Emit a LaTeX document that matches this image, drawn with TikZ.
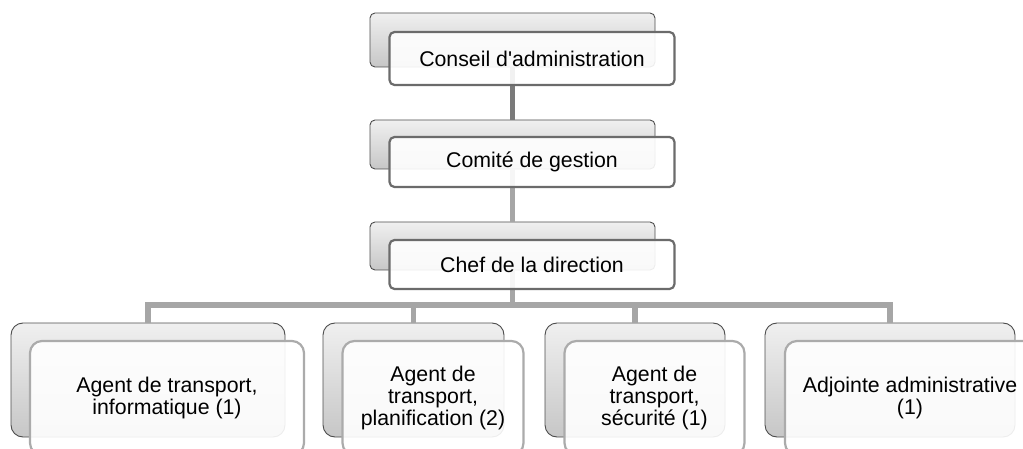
\documentclass[tikz,border=0pt]{standalone}
\usepackage{fontspec}
\setmainfont{Liberation Sans}
\begin{document}
\begin{tikzpicture}[x=1pt,y=-1pt]
  \tikzstyle{every node} = [align=center, inner sep=0pt, font=\fontsize{21.3}{22}\selectfont]
  \tikzstyle{back} = [draw=black!70, line width=0.9pt, top color=black!6, bottom color=black!22, rounded corners=5pt]
  \tikzstyle{front} = [draw=black!58, line width=2.2pt, fill=white, fill opacity=0.9, text opacity=1, rounded corners=5pt]
  \tikzstyle{lowfront} = [front, draw=black!33, rounded corners=12pt]
  \tikzstyle{link} = [line width=5.6pt, draw=black!35]
  \useasboundingbox (0,0) rectangle (1023,449);
  \clip (0,0) rectangle (1023,449);

  % back boxes
  \node[back, minimum width=285, minimum height=54] (conseilb) at (512.5,40) {};
  \node[back, minimum width=285, minimum height=49] (comiteb)  at (512.5,144.5) {};
  \node[back, minimum width=285, minimum height=48] (chefb)    at (512.5,246) {};
  \node[back, rounded corners=12pt, minimum width=274, minimum height=114] (infob) at (148,380) {};
  \node[back, rounded corners=12pt, minimum width=181, minimum height=114] (planb) at (413.5,380) {};
  \node[back, rounded corners=12pt, minimum width=180, minimum height=114] (secub) at (635,380) {};
  \node[back, rounded corners=12pt, minimum width=250, minimum height=114] (adjb)  at (890,380) {};

  % connectors
  \draw[link, draw=black!52] (conseilb.south) -- (comiteb.north);
  \draw[link] (comiteb.south) -- (chefb.north);
  \coordinate (bus) at (512.5,305);
  \draw[link] (chefb.south) -- (bus);
  \foreach \n in {infob,planb,secub,adjb}
    \draw[link] (bus) -| (\n.north);

  % front boxes
  \node[front, minimum width=285, minimum height=53] (conseil) at (532,58.5) {Conseil d\textquotesingle administration};
  \node[front, minimum width=285, minimum height=50] (comite)  at (532,162) {Comité de gestion};
  \node[front, minimum width=285, minimum height=49] (chef)    at (532,264.5) {Chef de la direction};
  \node[lowfront, minimum width=274, minimum height=114] (info) at (167,398) {Agent de transport,\\informatique (1)};
  \node[lowfront, minimum width=181, minimum height=114] (plan) at (433,398) {Agent de\\transport,\\planification (2)};
  \node[lowfront, minimum width=180, minimum height=114] (secu) at (654.5,398) {Agent de\\transport,\\sécurité (1)};
  \node[lowfront, minimum width=250, minimum height=114] (adj)  at (910,398) {Adjointe administrative\\(1)};
\end{tikzpicture}
\end{document}
